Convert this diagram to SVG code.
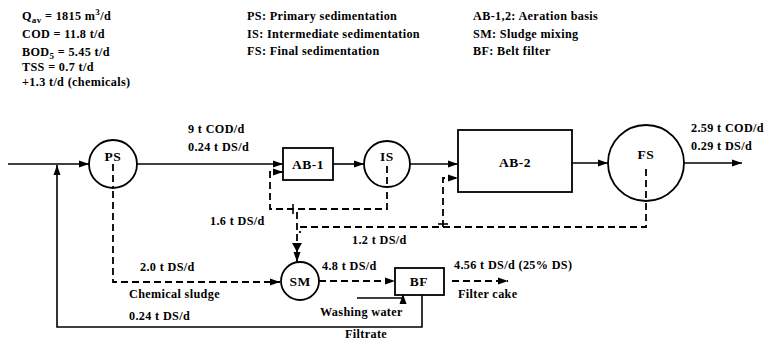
<svg xmlns="http://www.w3.org/2000/svg" width="777" height="343" viewBox="0 0 777 343">
<defs>
<marker id="ah" viewBox="0 0 10 8" refX="10" refY="4" markerWidth="10" markerHeight="8" markerUnits="userSpaceOnUse" orient="auto">
<path d="M0,0.5 L10,4 L0,7.5 Z" fill="#000"/>
</marker>
<style>
text{font-family:"Liberation Serif","DejaVu Serif",serif;font-weight:bold;font-size:12.2px;letter-spacing:0.35px;fill:#000}
.nl{font-size:13.5px;text-anchor:middle;letter-spacing:0.5px}
.s{fill:none;stroke:#000;stroke-width:1.6}
.d{fill:none;stroke:#000;stroke-width:1.8;stroke-dasharray:7 4}
.n{fill:#fff;stroke:#000;stroke-width:1.8}
</style>
</defs>
<rect width="777" height="343" fill="#fff"/>
<g id="header">
<text x="22" y="20">Q<tspan font-size="9" dy="3">av</tspan><tspan dy="-3"> = 1815 m</tspan><tspan font-size="9" dy="-5">3</tspan><tspan dy="5">/d</tspan></text>
<text x="22" y="38">COD = 11.8 t/d</text>
<text x="22" y="56">BOD<tspan font-size="9" dy="3">5</tspan><tspan dy="-3"> = 5.45 t/d</tspan></text>
<text x="22" y="71">TSS = 0.7 t/d</text>
<text x="22" y="86">+1.3 t/d (chemicals)</text>
<text x="247" y="20">PS: Primary sedimentation</text>
<text x="247" y="38">IS: Intermediate sedimentation</text>
<text x="247" y="55">FS: Final sedimentation</text>
<text x="473" y="20">AB-1,2: Aeration basis</text>
<text x="473" y="38">SM: Sludge mixing</text>
<text x="473" y="55">BF: Belt filter</text>
</g>
<g id="connectors">
<path class="s" d="M8,164 H89" marker-end="url(#ah)"/>
<path class="s" d="M422,295 V327 H57 V165" marker-end="url(#ah)"/>
<path class="s" d="M137,164 H283" marker-end="url(#ah)"/>
<path class="s" d="M333,164 H364" marker-end="url(#ah)"/>
<path class="s" d="M410,164 H458" marker-end="url(#ah)"/>
<path class="s" d="M572,163 H608" marker-end="url(#ah)"/>
<path class="s" d="M684,163 H742" marker-end="url(#ah)"/>
<path class="s" d="M357,298 H403 V294" marker-end="url(#ah)"/>
<path class="d" d="M113,158 V282 H280" marker-end="url(#ah)"/>
<path class="d" d="M387,170 V209 H270 V172 H283" marker-end="url(#ah)"/>
<path class="s" d="M293,204 V214"/>
<path class="d" d="M297,212 V262" marker-end="url(#ah)"/>
<path d="M292,243 L297,252 L302,243 Z" fill="#000"/>
<path class="d" d="M646,170 V227 H300 V233"/>
<path class="d" d="M443,227 V178 H458" marker-end="url(#ah)"/>
<path class="s" d="M438,224 H448"/>
<path class="d" d="M319,281 H395" marker-end="url(#ah)"/>
<path class="d" d="M452,281 H508" marker-end="url(#ah)"/>
</g>
<g id="PS"><circle class="n" cx="113" cy="164" r="24"/><text class="nl" x="113" y="161">PS</text><path class="d" d="M113,164 V188"/></g>
<g id="AB1"><rect class="n" x="283" y="148" width="50" height="32"/><text class="nl" x="308" y="169">AB-1</text></g>
<g id="IS"><circle class="n" cx="387" cy="164" r="23"/><text class="nl" x="387" y="161">IS</text><path class="d" d="M387,166 V187"/></g>
<g id="AB2"><rect class="n" x="458" y="130" width="114" height="62"/><text class="nl" x="515" y="167">AB-2</text></g>
<g id="FS"><circle class="n" cx="646" cy="163" r="38"/><text class="nl" x="646" y="159">FS</text><path class="d" d="M646,169 V201"/></g>
<g id="SM"><circle class="n" cx="300" cy="281" r="19"/><text class="nl" x="300" y="286">SM</text></g>
<g id="BF"><rect class="n" x="395" y="268" width="49" height="27"/><text class="nl" x="419" y="286">BF</text></g>
<g id="labels">
<text x="188" y="133">9 t COD/d</text>
<text x="188" y="151">0.24 t DS/d</text>
<text x="691" y="132">2.59 t COD/d</text>
<text x="691" y="150">0.29 t DS/d</text>
<text x="210" y="225">1.6 t DS/d</text>
<text x="352" y="244">1.2 t DS/d</text>
<text x="140" y="271">2.0 t DS/d</text>
<text x="129" y="298">Chemical sludge</text>
<text x="129" y="320">0.24 t DS/d</text>
<text x="322" y="270">4.8 t DS/d</text>
<text x="454" y="269">4.56 t DS/d (25% DS)</text>
<text x="458" y="298">Filter cake</text>
<text x="320" y="316">Washing water</text>
<text x="345" y="338">Filtrate</text>
</g>
</svg>
